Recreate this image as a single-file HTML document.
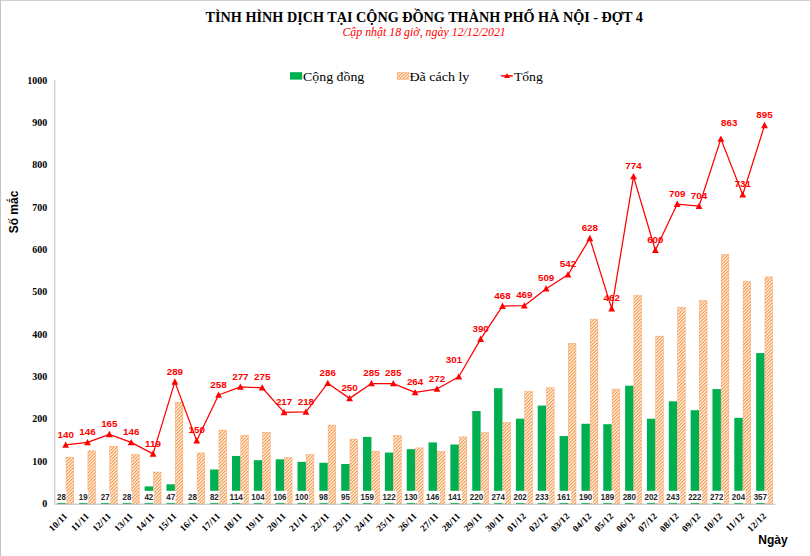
<!DOCTYPE html><html><head><meta charset="utf-8"><style>html,body{margin:0;padding:0;background:#fff;}svg{display:block;}</style></head><body>
<svg width="810" height="556" viewBox="0 0 810 556">
<defs><pattern id="h" patternUnits="userSpaceOnUse" width="2.33" height="2.33" patternTransform="rotate(45)"><rect x="0" y="0" width="2.33" height="2.33" fill="#fff"/><rect x="0" y="0" width="1.2" height="2.33" fill="#F79646"/></pattern></defs>
<rect x="0" y="0" width="810" height="556" fill="#fff"/>
<rect x="0" y="0" width="810" height="1" fill="#d0d0d0"/>
<rect x="0" y="0" width="1" height="556" fill="#c4c4c4"/>
<text x="205.6" y="21.5" textLength="437.2" lengthAdjust="spacingAndGlyphs" font-family="Liberation Serif" font-weight="bold" font-size="14.2" fill="#000">TÌNH HÌNH DỊCH TẠI CỘNG ĐỒNG THÀNH PHỐ HÀ NỘI - ĐỢT 4</text>
<text x="342.4" y="36" textLength="163.4" lengthAdjust="spacingAndGlyphs" font-family="Liberation Serif" font-style="italic" font-size="12" fill="#FF0000">Cập nhật 18 giờ, ngày 12/12/2021</text>
<rect x="290" y="72.2" width="12.2" height="7.4" fill="#00B050"/>
<text x="303.1" y="80.6" font-family="Liberation Serif" font-size="13.1" textLength="61.2" lengthAdjust="spacingAndGlyphs" fill="#000">Cộng đồng</text>
<rect x="397.2" y="72.5" width="11.6" height="7" fill="url(#h)" stroke="#F79646" stroke-width="0.5" stroke-opacity="0.8"/>
<text x="409.4" y="80.6" font-family="Liberation Serif" font-size="13.1" textLength="60" lengthAdjust="spacingAndGlyphs" fill="#000">Đã cách ly</text>
<line x1="501.1" y1="75.9" x2="512.8" y2="75.9" stroke="#FF0000" stroke-width="1.5"/>
<path d="M507,73.3 L510,78 L504,78 Z" fill="#FF0000"/>
<text x="513.9" y="80.6" font-family="Liberation Serif" font-size="13.1" textLength="28.9" lengthAdjust="spacingAndGlyphs" fill="#000">Tổng</text>
<text x="47.2" y="507.10" text-anchor="end" font-family="Liberation Serif" font-weight="bold" font-size="10" fill="#000">0</text>
<text x="47.2" y="464.77" text-anchor="end" font-family="Liberation Serif" font-weight="bold" font-size="10" fill="#000">100</text>
<text x="47.2" y="422.44" text-anchor="end" font-family="Liberation Serif" font-weight="bold" font-size="10" fill="#000">200</text>
<text x="47.2" y="380.11" text-anchor="end" font-family="Liberation Serif" font-weight="bold" font-size="10" fill="#000">300</text>
<text x="47.2" y="337.78" text-anchor="end" font-family="Liberation Serif" font-weight="bold" font-size="10" fill="#000">400</text>
<text x="47.2" y="295.45" text-anchor="end" font-family="Liberation Serif" font-weight="bold" font-size="10" fill="#000">500</text>
<text x="47.2" y="253.12" text-anchor="end" font-family="Liberation Serif" font-weight="bold" font-size="10" fill="#000">600</text>
<text x="47.2" y="210.79" text-anchor="end" font-family="Liberation Serif" font-weight="bold" font-size="10" fill="#000">700</text>
<text x="47.2" y="168.46" text-anchor="end" font-family="Liberation Serif" font-weight="bold" font-size="10" fill="#000">800</text>
<text x="47.2" y="126.13" text-anchor="end" font-family="Liberation Serif" font-weight="bold" font-size="10" fill="#000">900</text>
<text x="47.2" y="83.80" text-anchor="end" font-family="Liberation Serif" font-weight="bold" font-size="10" fill="#000">1000</text>
<text transform="translate(17.6,212) rotate(-90)" text-anchor="middle" font-family="Liberation Sans" font-weight="bold" font-size="12" fill="#000">Số mắc</text>
<text x="773" y="544" text-anchor="middle" font-family="Liberation Sans" font-weight="bold" font-size="12" fill="#000">Ngày</text>
<rect x="57.27" y="492.35" width="8.4" height="11.85" fill="#00B050"/>
<rect x="66.07" y="457.19" width="7.6000000000000005" height="47.01" fill="url(#h)" stroke="#F79646" stroke-width="0.5" stroke-opacity="0.8"/>
<rect x="79.11" y="496.16" width="8.4" height="8.04" fill="#00B050"/>
<rect x="87.91" y="450.84" width="7.6000000000000005" height="53.36" fill="url(#h)" stroke="#F79646" stroke-width="0.5" stroke-opacity="0.8"/>
<rect x="100.95" y="492.77" width="8.4" height="11.43" fill="#00B050"/>
<rect x="109.75" y="446.18" width="7.6000000000000005" height="58.02" fill="url(#h)" stroke="#F79646" stroke-width="0.5" stroke-opacity="0.8"/>
<rect x="122.79" y="492.35" width="8.4" height="11.85" fill="#00B050"/>
<rect x="131.59" y="454.65" width="7.6000000000000005" height="49.55" fill="url(#h)" stroke="#F79646" stroke-width="0.5" stroke-opacity="0.8"/>
<rect x="144.63" y="486.42" width="8.4" height="17.78" fill="#00B050"/>
<rect x="153.43" y="472.01" width="7.6000000000000005" height="32.19" fill="url(#h)" stroke="#F79646" stroke-width="0.5" stroke-opacity="0.8"/>
<rect x="166.47" y="484.30" width="8.4" height="19.90" fill="#00B050"/>
<rect x="175.27" y="402.16" width="7.6000000000000005" height="102.04" fill="url(#h)" stroke="#F79646" stroke-width="0.5" stroke-opacity="0.8"/>
<rect x="188.31" y="492.35" width="8.4" height="11.85" fill="#00B050"/>
<rect x="197.11" y="452.96" width="7.6000000000000005" height="51.24" fill="url(#h)" stroke="#F79646" stroke-width="0.5" stroke-opacity="0.8"/>
<rect x="210.15" y="469.49" width="8.4" height="34.71" fill="#00B050"/>
<rect x="218.95" y="430.10" width="7.6000000000000005" height="74.10" fill="url(#h)" stroke="#F79646" stroke-width="0.5" stroke-opacity="0.8"/>
<rect x="231.99" y="455.94" width="8.4" height="48.26" fill="#00B050"/>
<rect x="240.79" y="435.60" width="7.6000000000000005" height="68.60" fill="url(#h)" stroke="#F79646" stroke-width="0.5" stroke-opacity="0.8"/>
<rect x="253.83" y="460.18" width="8.4" height="44.02" fill="#00B050"/>
<rect x="262.63" y="432.22" width="7.6000000000000005" height="71.98" fill="url(#h)" stroke="#F79646" stroke-width="0.5" stroke-opacity="0.8"/>
<rect x="275.67" y="459.33" width="8.4" height="44.87" fill="#00B050"/>
<rect x="284.47" y="457.61" width="7.6000000000000005" height="46.59" fill="url(#h)" stroke="#F79646" stroke-width="0.5" stroke-opacity="0.8"/>
<rect x="297.51" y="461.87" width="8.4" height="42.33" fill="#00B050"/>
<rect x="306.31" y="454.65" width="7.6000000000000005" height="49.55" fill="url(#h)" stroke="#F79646" stroke-width="0.5" stroke-opacity="0.8"/>
<rect x="319.35" y="462.72" width="8.4" height="41.48" fill="#00B050"/>
<rect x="328.15" y="425.02" width="7.6000000000000005" height="79.18" fill="url(#h)" stroke="#F79646" stroke-width="0.5" stroke-opacity="0.8"/>
<rect x="341.19" y="463.99" width="8.4" height="40.21" fill="#00B050"/>
<rect x="349.99" y="438.99" width="7.6000000000000005" height="65.21" fill="url(#h)" stroke="#F79646" stroke-width="0.5" stroke-opacity="0.8"/>
<rect x="363.03" y="436.90" width="8.4" height="67.30" fill="#00B050"/>
<rect x="371.83" y="451.26" width="7.6000000000000005" height="52.94" fill="url(#h)" stroke="#F79646" stroke-width="0.5" stroke-opacity="0.8"/>
<rect x="384.87" y="452.56" width="8.4" height="51.64" fill="#00B050"/>
<rect x="393.67" y="435.60" width="7.6000000000000005" height="68.60" fill="url(#h)" stroke="#F79646" stroke-width="0.5" stroke-opacity="0.8"/>
<rect x="406.71" y="449.17" width="8.4" height="55.03" fill="#00B050"/>
<rect x="415.51" y="447.88" width="7.6000000000000005" height="56.32" fill="url(#h)" stroke="#F79646" stroke-width="0.5" stroke-opacity="0.8"/>
<rect x="428.55" y="442.40" width="8.4" height="61.80" fill="#00B050"/>
<rect x="437.35" y="451.26" width="7.6000000000000005" height="52.94" fill="url(#h)" stroke="#F79646" stroke-width="0.5" stroke-opacity="0.8"/>
<rect x="450.39" y="444.51" width="8.4" height="59.69" fill="#00B050"/>
<rect x="459.19" y="436.87" width="7.6000000000000005" height="67.33" fill="url(#h)" stroke="#F79646" stroke-width="0.5" stroke-opacity="0.8"/>
<rect x="472.23" y="411.07" width="8.4" height="93.13" fill="#00B050"/>
<rect x="481.03" y="432.64" width="7.6000000000000005" height="71.56" fill="url(#h)" stroke="#F79646" stroke-width="0.5" stroke-opacity="0.8"/>
<rect x="494.07" y="388.22" width="8.4" height="115.98" fill="#00B050"/>
<rect x="502.87" y="422.48" width="7.6000000000000005" height="81.72" fill="url(#h)" stroke="#F79646" stroke-width="0.5" stroke-opacity="0.8"/>
<rect x="515.91" y="418.69" width="8.4" height="85.51" fill="#00B050"/>
<rect x="524.71" y="391.58" width="7.6000000000000005" height="112.62" fill="url(#h)" stroke="#F79646" stroke-width="0.5" stroke-opacity="0.8"/>
<rect x="537.75" y="405.57" width="8.4" height="98.63" fill="#00B050"/>
<rect x="546.55" y="387.77" width="7.6000000000000005" height="116.43" fill="url(#h)" stroke="#F79646" stroke-width="0.5" stroke-opacity="0.8"/>
<rect x="559.59" y="436.05" width="8.4" height="68.15" fill="#00B050"/>
<rect x="568.39" y="343.32" width="7.6000000000000005" height="160.88" fill="url(#h)" stroke="#F79646" stroke-width="0.5" stroke-opacity="0.8"/>
<rect x="581.43" y="423.77" width="8.4" height="80.43" fill="#00B050"/>
<rect x="590.23" y="319.19" width="7.6000000000000005" height="185.01" fill="url(#h)" stroke="#F79646" stroke-width="0.5" stroke-opacity="0.8"/>
<rect x="603.27" y="424.20" width="8.4" height="80.00" fill="#00B050"/>
<rect x="612.07" y="389.04" width="7.6000000000000005" height="115.16" fill="url(#h)" stroke="#F79646" stroke-width="0.5" stroke-opacity="0.8"/>
<rect x="625.11" y="385.68" width="8.4" height="118.52" fill="#00B050"/>
<rect x="633.91" y="295.49" width="7.6000000000000005" height="208.71" fill="url(#h)" stroke="#F79646" stroke-width="0.5" stroke-opacity="0.8"/>
<rect x="646.95" y="418.69" width="8.4" height="85.51" fill="#00B050"/>
<rect x="655.75" y="336.13" width="7.6000000000000005" height="168.07" fill="url(#h)" stroke="#F79646" stroke-width="0.5" stroke-opacity="0.8"/>
<rect x="668.79" y="401.34" width="8.4" height="102.86" fill="#00B050"/>
<rect x="677.59" y="307.34" width="7.6000000000000005" height="196.86" fill="url(#h)" stroke="#F79646" stroke-width="0.5" stroke-opacity="0.8"/>
<rect x="690.63" y="410.23" width="8.4" height="93.97" fill="#00B050"/>
<rect x="699.43" y="300.57" width="7.6000000000000005" height="203.63" fill="url(#h)" stroke="#F79646" stroke-width="0.5" stroke-opacity="0.8"/>
<rect x="712.47" y="389.06" width="8.4" height="115.14" fill="#00B050"/>
<rect x="721.27" y="254.43" width="7.6000000000000005" height="249.77" fill="url(#h)" stroke="#F79646" stroke-width="0.5" stroke-opacity="0.8"/>
<rect x="734.31" y="417.85" width="8.4" height="86.35" fill="#00B050"/>
<rect x="743.11" y="281.52" width="7.6000000000000005" height="222.68" fill="url(#h)" stroke="#F79646" stroke-width="0.5" stroke-opacity="0.8"/>
<rect x="756.15" y="353.08" width="8.4" height="151.12" fill="#00B050"/>
<rect x="764.95" y="276.86" width="7.6000000000000005" height="227.34" fill="url(#h)" stroke="#F79646" stroke-width="0.5" stroke-opacity="0.8"/>
<line x1="54.75" y1="80" x2="54.75" y2="504.2" stroke="#BFBFBF" stroke-width="1"/>
<line x1="54.75" y1="504.2" x2="775.47" y2="504.2" stroke="#BFBFBF" stroke-width="1"/>
<rect x="56.42" y="490.8" width="10.10" height="12.1" fill="#fff"/>
<text x="57.02" y="499.9" textLength="8.90" lengthAdjust="spacingAndGlyphs" font-family="Liberation Sans" font-weight="bold" font-size="8.7" fill="#262626">28</text>
<rect x="78.26" y="490.8" width="10.10" height="12.1" fill="#fff"/>
<text x="78.86" y="499.9" textLength="8.90" lengthAdjust="spacingAndGlyphs" font-family="Liberation Sans" font-weight="bold" font-size="8.7" fill="#262626">19</text>
<rect x="100.10" y="490.8" width="10.10" height="12.1" fill="#fff"/>
<text x="100.70" y="499.9" textLength="8.90" lengthAdjust="spacingAndGlyphs" font-family="Liberation Sans" font-weight="bold" font-size="8.7" fill="#262626">27</text>
<rect x="121.94" y="490.8" width="10.10" height="12.1" fill="#fff"/>
<text x="122.54" y="499.9" textLength="8.90" lengthAdjust="spacingAndGlyphs" font-family="Liberation Sans" font-weight="bold" font-size="8.7" fill="#262626">28</text>
<rect x="143.78" y="490.8" width="10.10" height="12.1" fill="#fff"/>
<text x="144.38" y="499.9" textLength="8.90" lengthAdjust="spacingAndGlyphs" font-family="Liberation Sans" font-weight="bold" font-size="8.7" fill="#262626">42</text>
<rect x="165.62" y="490.8" width="10.10" height="12.1" fill="#fff"/>
<text x="166.22" y="499.9" textLength="8.90" lengthAdjust="spacingAndGlyphs" font-family="Liberation Sans" font-weight="bold" font-size="8.7" fill="#262626">47</text>
<rect x="187.46" y="490.8" width="10.10" height="12.1" fill="#fff"/>
<text x="188.06" y="499.9" textLength="8.90" lengthAdjust="spacingAndGlyphs" font-family="Liberation Sans" font-weight="bold" font-size="8.7" fill="#262626">28</text>
<rect x="209.30" y="490.8" width="10.10" height="12.1" fill="#fff"/>
<text x="209.90" y="499.9" textLength="8.90" lengthAdjust="spacingAndGlyphs" font-family="Liberation Sans" font-weight="bold" font-size="8.7" fill="#262626">82</text>
<rect x="228.91" y="490.8" width="14.55" height="12.1" fill="#fff"/>
<text x="229.51" y="499.9" textLength="13.35" lengthAdjust="spacingAndGlyphs" font-family="Liberation Sans" font-weight="bold" font-size="8.7" fill="#262626">114</text>
<rect x="250.76" y="490.8" width="14.55" height="12.1" fill="#fff"/>
<text x="251.36" y="499.9" textLength="13.35" lengthAdjust="spacingAndGlyphs" font-family="Liberation Sans" font-weight="bold" font-size="8.7" fill="#262626">104</text>
<rect x="272.59" y="490.8" width="14.55" height="12.1" fill="#fff"/>
<text x="273.19" y="499.9" textLength="13.35" lengthAdjust="spacingAndGlyphs" font-family="Liberation Sans" font-weight="bold" font-size="8.7" fill="#262626">106</text>
<rect x="294.44" y="490.8" width="14.55" height="12.1" fill="#fff"/>
<text x="295.03" y="499.9" textLength="13.35" lengthAdjust="spacingAndGlyphs" font-family="Liberation Sans" font-weight="bold" font-size="8.7" fill="#262626">100</text>
<rect x="318.50" y="490.8" width="10.10" height="12.1" fill="#fff"/>
<text x="319.10" y="499.9" textLength="8.90" lengthAdjust="spacingAndGlyphs" font-family="Liberation Sans" font-weight="bold" font-size="8.7" fill="#262626">98</text>
<rect x="340.34" y="490.8" width="10.10" height="12.1" fill="#fff"/>
<text x="340.94" y="499.9" textLength="8.90" lengthAdjust="spacingAndGlyphs" font-family="Liberation Sans" font-weight="bold" font-size="8.7" fill="#262626">95</text>
<rect x="359.95" y="490.8" width="14.55" height="12.1" fill="#fff"/>
<text x="360.55" y="499.9" textLength="13.35" lengthAdjust="spacingAndGlyphs" font-family="Liberation Sans" font-weight="bold" font-size="8.7" fill="#262626">159</text>
<rect x="381.80" y="490.8" width="14.55" height="12.1" fill="#fff"/>
<text x="382.39" y="499.9" textLength="13.35" lengthAdjust="spacingAndGlyphs" font-family="Liberation Sans" font-weight="bold" font-size="8.7" fill="#262626">122</text>
<rect x="403.63" y="490.8" width="14.55" height="12.1" fill="#fff"/>
<text x="404.23" y="499.9" textLength="13.35" lengthAdjust="spacingAndGlyphs" font-family="Liberation Sans" font-weight="bold" font-size="8.7" fill="#262626">130</text>
<rect x="425.47" y="490.8" width="14.55" height="12.1" fill="#fff"/>
<text x="426.07" y="499.9" textLength="13.35" lengthAdjust="spacingAndGlyphs" font-family="Liberation Sans" font-weight="bold" font-size="8.7" fill="#262626">146</text>
<rect x="447.31" y="490.8" width="14.55" height="12.1" fill="#fff"/>
<text x="447.91" y="499.9" textLength="13.35" lengthAdjust="spacingAndGlyphs" font-family="Liberation Sans" font-weight="bold" font-size="8.7" fill="#262626">141</text>
<rect x="469.15" y="490.8" width="14.55" height="12.1" fill="#fff"/>
<text x="469.75" y="499.9" textLength="13.35" lengthAdjust="spacingAndGlyphs" font-family="Liberation Sans" font-weight="bold" font-size="8.7" fill="#262626">220</text>
<rect x="491.00" y="490.8" width="14.55" height="12.1" fill="#fff"/>
<text x="491.59" y="499.9" textLength="13.35" lengthAdjust="spacingAndGlyphs" font-family="Liberation Sans" font-weight="bold" font-size="8.7" fill="#262626">274</text>
<rect x="512.84" y="490.8" width="14.55" height="12.1" fill="#fff"/>
<text x="513.44" y="499.9" textLength="13.35" lengthAdjust="spacingAndGlyphs" font-family="Liberation Sans" font-weight="bold" font-size="8.7" fill="#262626">202</text>
<rect x="534.68" y="490.8" width="14.55" height="12.1" fill="#fff"/>
<text x="535.28" y="499.9" textLength="13.35" lengthAdjust="spacingAndGlyphs" font-family="Liberation Sans" font-weight="bold" font-size="8.7" fill="#262626">233</text>
<rect x="556.51" y="490.8" width="14.55" height="12.1" fill="#fff"/>
<text x="557.12" y="499.9" textLength="13.35" lengthAdjust="spacingAndGlyphs" font-family="Liberation Sans" font-weight="bold" font-size="8.7" fill="#262626">161</text>
<rect x="578.36" y="490.8" width="14.55" height="12.1" fill="#fff"/>
<text x="578.96" y="499.9" textLength="13.35" lengthAdjust="spacingAndGlyphs" font-family="Liberation Sans" font-weight="bold" font-size="8.7" fill="#262626">190</text>
<rect x="600.20" y="490.8" width="14.55" height="12.1" fill="#fff"/>
<text x="600.80" y="499.9" textLength="13.35" lengthAdjust="spacingAndGlyphs" font-family="Liberation Sans" font-weight="bold" font-size="8.7" fill="#262626">189</text>
<rect x="622.04" y="490.8" width="14.55" height="12.1" fill="#fff"/>
<text x="622.64" y="499.9" textLength="13.35" lengthAdjust="spacingAndGlyphs" font-family="Liberation Sans" font-weight="bold" font-size="8.7" fill="#262626">280</text>
<rect x="643.88" y="490.8" width="14.55" height="12.1" fill="#fff"/>
<text x="644.48" y="499.9" textLength="13.35" lengthAdjust="spacingAndGlyphs" font-family="Liberation Sans" font-weight="bold" font-size="8.7" fill="#262626">202</text>
<rect x="665.72" y="490.8" width="14.55" height="12.1" fill="#fff"/>
<text x="666.32" y="499.9" textLength="13.35" lengthAdjust="spacingAndGlyphs" font-family="Liberation Sans" font-weight="bold" font-size="8.7" fill="#262626">243</text>
<rect x="687.56" y="490.8" width="14.55" height="12.1" fill="#fff"/>
<text x="688.16" y="499.9" textLength="13.35" lengthAdjust="spacingAndGlyphs" font-family="Liberation Sans" font-weight="bold" font-size="8.7" fill="#262626">222</text>
<rect x="709.40" y="490.8" width="14.55" height="12.1" fill="#fff"/>
<text x="710.00" y="499.9" textLength="13.35" lengthAdjust="spacingAndGlyphs" font-family="Liberation Sans" font-weight="bold" font-size="8.7" fill="#262626">272</text>
<rect x="731.24" y="490.8" width="14.55" height="12.1" fill="#fff"/>
<text x="731.84" y="499.9" textLength="13.35" lengthAdjust="spacingAndGlyphs" font-family="Liberation Sans" font-weight="bold" font-size="8.7" fill="#262626">204</text>
<rect x="753.08" y="490.8" width="14.55" height="12.1" fill="#fff"/>
<text x="753.68" y="499.9" textLength="13.35" lengthAdjust="spacingAndGlyphs" font-family="Liberation Sans" font-weight="bold" font-size="8.7" fill="#262626">357</text>
<polyline points="65.67,444.94 87.51,442.40 109.35,434.36 131.19,442.40 153.03,453.83 174.87,381.87 196.71,440.70 218.55,394.99 240.39,386.95 262.23,387.79 284.07,412.34 305.91,411.92 327.75,383.14 349.59,398.38 371.43,383.56 393.27,383.56 415.11,392.45 436.95,389.06 458.79,376.79 480.63,339.11 502.47,306.10 524.31,305.67 546.15,288.74 567.99,274.77 589.83,238.37 611.67,308.64 633.51,176.57 655.35,250.22 677.19,204.08 699.03,206.20 720.87,138.89 742.71,194.77 764.55,125.35" fill="none" stroke="#FF0000" stroke-width="1.25" stroke-linejoin="round"/>
<path d="M65.67,441.44 L69.07,447.74 L62.27,447.74 Z" fill="#FF0000"/>
<path d="M87.51,438.90 L90.91,445.20 L84.11,445.20 Z" fill="#FF0000"/>
<path d="M109.35,430.86 L112.75,437.16 L105.95,437.16 Z" fill="#FF0000"/>
<path d="M131.19,438.90 L134.59,445.20 L127.79,445.20 Z" fill="#FF0000"/>
<path d="M153.03,450.33 L156.43,456.63 L149.63,456.63 Z" fill="#FF0000"/>
<path d="M174.87,378.37 L178.27,384.67 L171.47,384.67 Z" fill="#FF0000"/>
<path d="M196.71,437.20 L200.11,443.50 L193.31,443.50 Z" fill="#FF0000"/>
<path d="M218.55,391.49 L221.95,397.79 L215.15,397.79 Z" fill="#FF0000"/>
<path d="M240.39,383.45 L243.79,389.75 L236.99,389.75 Z" fill="#FF0000"/>
<path d="M262.23,384.29 L265.63,390.59 L258.83,390.59 Z" fill="#FF0000"/>
<path d="M284.07,408.84 L287.47,415.14 L280.67,415.14 Z" fill="#FF0000"/>
<path d="M305.91,408.42 L309.31,414.72 L302.51,414.72 Z" fill="#FF0000"/>
<path d="M327.75,379.64 L331.15,385.94 L324.35,385.94 Z" fill="#FF0000"/>
<path d="M349.59,394.88 L352.99,401.18 L346.19,401.18 Z" fill="#FF0000"/>
<path d="M371.43,380.06 L374.83,386.36 L368.03,386.36 Z" fill="#FF0000"/>
<path d="M393.27,380.06 L396.67,386.36 L389.87,386.36 Z" fill="#FF0000"/>
<path d="M415.11,388.95 L418.51,395.25 L411.71,395.25 Z" fill="#FF0000"/>
<path d="M436.95,385.56 L440.35,391.86 L433.55,391.86 Z" fill="#FF0000"/>
<path d="M458.79,373.29 L462.19,379.59 L455.39,379.59 Z" fill="#FF0000"/>
<path d="M480.63,335.61 L484.03,341.91 L477.23,341.91 Z" fill="#FF0000"/>
<path d="M502.47,302.60 L505.87,308.90 L499.07,308.90 Z" fill="#FF0000"/>
<path d="M524.31,302.17 L527.71,308.47 L520.91,308.47 Z" fill="#FF0000"/>
<path d="M546.15,285.24 L549.55,291.54 L542.75,291.54 Z" fill="#FF0000"/>
<path d="M567.99,271.27 L571.39,277.57 L564.59,277.57 Z" fill="#FF0000"/>
<path d="M589.83,234.87 L593.23,241.17 L586.43,241.17 Z" fill="#FF0000"/>
<path d="M611.67,305.14 L615.07,311.44 L608.27,311.44 Z" fill="#FF0000"/>
<path d="M633.51,173.07 L636.91,179.37 L630.11,179.37 Z" fill="#FF0000"/>
<path d="M655.35,246.72 L658.75,253.02 L651.95,253.02 Z" fill="#FF0000"/>
<path d="M677.19,200.58 L680.59,206.88 L673.79,206.88 Z" fill="#FF0000"/>
<path d="M699.03,202.70 L702.43,209.00 L695.63,209.00 Z" fill="#FF0000"/>
<path d="M720.87,135.39 L724.27,141.69 L717.47,141.69 Z" fill="#FF0000"/>
<path d="M742.71,191.27 L746.11,197.57 L739.31,197.57 Z" fill="#FF0000"/>
<path d="M764.55,121.85 L767.95,128.15 L761.15,128.15 Z" fill="#FF0000"/>
<text x="65.67" y="437.64" text-anchor="middle" font-family="Liberation Sans" font-weight="bold" font-size="9.8" fill="#FF0000">140</text>
<text x="87.51" y="435.10" text-anchor="middle" font-family="Liberation Sans" font-weight="bold" font-size="9.8" fill="#FF0000">146</text>
<text x="109.35" y="427.06" text-anchor="middle" font-family="Liberation Sans" font-weight="bold" font-size="9.8" fill="#FF0000">165</text>
<text x="131.19" y="435.10" text-anchor="middle" font-family="Liberation Sans" font-weight="bold" font-size="9.8" fill="#FF0000">146</text>
<text x="153.03" y="446.53" text-anchor="middle" font-family="Liberation Sans" font-weight="bold" font-size="9.8" fill="#FF0000">119</text>
<text x="174.87" y="374.57" text-anchor="middle" font-family="Liberation Sans" font-weight="bold" font-size="9.8" fill="#FF0000">289</text>
<text x="196.71" y="433.40" text-anchor="middle" font-family="Liberation Sans" font-weight="bold" font-size="9.8" fill="#FF0000">150</text>
<text x="218.55" y="387.69" text-anchor="middle" font-family="Liberation Sans" font-weight="bold" font-size="9.8" fill="#FF0000">258</text>
<text x="240.39" y="379.65" text-anchor="middle" font-family="Liberation Sans" font-weight="bold" font-size="9.8" fill="#FF0000">277</text>
<text x="262.23" y="380.49" text-anchor="middle" font-family="Liberation Sans" font-weight="bold" font-size="9.8" fill="#FF0000">275</text>
<text x="284.07" y="405.04" text-anchor="middle" font-family="Liberation Sans" font-weight="bold" font-size="9.8" fill="#FF0000">217</text>
<text x="305.91" y="404.62" text-anchor="middle" font-family="Liberation Sans" font-weight="bold" font-size="9.8" fill="#FF0000">218</text>
<text x="327.75" y="375.84" text-anchor="middle" font-family="Liberation Sans" font-weight="bold" font-size="9.8" fill="#FF0000">286</text>
<text x="349.59" y="391.07" text-anchor="middle" font-family="Liberation Sans" font-weight="bold" font-size="9.8" fill="#FF0000">250</text>
<text x="371.43" y="376.26" text-anchor="middle" font-family="Liberation Sans" font-weight="bold" font-size="9.8" fill="#FF0000">285</text>
<text x="393.27" y="376.26" text-anchor="middle" font-family="Liberation Sans" font-weight="bold" font-size="9.8" fill="#FF0000">285</text>
<text x="415.11" y="385.15" text-anchor="middle" font-family="Liberation Sans" font-weight="bold" font-size="9.8" fill="#FF0000">264</text>
<text x="436.95" y="381.76" text-anchor="middle" font-family="Liberation Sans" font-weight="bold" font-size="9.8" fill="#FF0000">272</text>
<text x="453.99" y="363.29" text-anchor="middle" font-family="Liberation Sans" font-weight="bold" font-size="9.8" fill="#FF0000">301</text>
<text x="480.63" y="331.81" text-anchor="middle" font-family="Liberation Sans" font-weight="bold" font-size="9.8" fill="#FF0000">390</text>
<text x="502.47" y="298.80" text-anchor="middle" font-family="Liberation Sans" font-weight="bold" font-size="9.8" fill="#FF0000">468</text>
<text x="524.31" y="298.37" text-anchor="middle" font-family="Liberation Sans" font-weight="bold" font-size="9.8" fill="#FF0000">469</text>
<text x="546.15" y="281.44" text-anchor="middle" font-family="Liberation Sans" font-weight="bold" font-size="9.8" fill="#FF0000">509</text>
<text x="567.99" y="267.47" text-anchor="middle" font-family="Liberation Sans" font-weight="bold" font-size="9.8" fill="#FF0000">542</text>
<text x="589.83" y="231.07" text-anchor="middle" font-family="Liberation Sans" font-weight="bold" font-size="9.8" fill="#FF0000">628</text>
<text x="611.67" y="301.34" text-anchor="middle" font-family="Liberation Sans" font-weight="bold" font-size="9.8" fill="#FF0000">462</text>
<text x="633.51" y="169.27" text-anchor="middle" font-family="Liberation Sans" font-weight="bold" font-size="9.8" fill="#FF0000">774</text>
<text x="655.35" y="242.92" text-anchor="middle" font-family="Liberation Sans" font-weight="bold" font-size="9.8" fill="#FF0000">600</text>
<text x="677.19" y="196.78" text-anchor="middle" font-family="Liberation Sans" font-weight="bold" font-size="9.8" fill="#FF0000">709</text>
<text x="699.03" y="198.90" text-anchor="middle" font-family="Liberation Sans" font-weight="bold" font-size="9.8" fill="#FF0000">704</text>
<text x="729.17" y="126.09" text-anchor="middle" font-family="Liberation Sans" font-weight="bold" font-size="9.8" fill="#FF0000">863</text>
<text x="742.71" y="187.47" text-anchor="middle" font-family="Liberation Sans" font-weight="bold" font-size="9.8" fill="#FF0000">731</text>
<text x="764.55" y="118.05" text-anchor="middle" font-family="Liberation Sans" font-weight="bold" font-size="9.8" fill="#FF0000">895</text>
<text transform="translate(67.97,516.60) rotate(-45)" text-anchor="end" font-family="Liberation Serif" font-weight="bold" font-size="9.3" letter-spacing="0.25" fill="#000">10/11</text>
<text transform="translate(89.81,516.60) rotate(-45)" text-anchor="end" font-family="Liberation Serif" font-weight="bold" font-size="9.3" letter-spacing="0.25" fill="#000">11/11</text>
<text transform="translate(111.65,516.60) rotate(-45)" text-anchor="end" font-family="Liberation Serif" font-weight="bold" font-size="9.3" letter-spacing="0.25" fill="#000">12/11</text>
<text transform="translate(133.49,516.60) rotate(-45)" text-anchor="end" font-family="Liberation Serif" font-weight="bold" font-size="9.3" letter-spacing="0.25" fill="#000">13/11</text>
<text transform="translate(155.33,516.60) rotate(-45)" text-anchor="end" font-family="Liberation Serif" font-weight="bold" font-size="9.3" letter-spacing="0.25" fill="#000">14/11</text>
<text transform="translate(177.17,516.60) rotate(-45)" text-anchor="end" font-family="Liberation Serif" font-weight="bold" font-size="9.3" letter-spacing="0.25" fill="#000">15/11</text>
<text transform="translate(199.01,516.60) rotate(-45)" text-anchor="end" font-family="Liberation Serif" font-weight="bold" font-size="9.3" letter-spacing="0.25" fill="#000">16/11</text>
<text transform="translate(220.85,516.60) rotate(-45)" text-anchor="end" font-family="Liberation Serif" font-weight="bold" font-size="9.3" letter-spacing="0.25" fill="#000">17/11</text>
<text transform="translate(242.69,516.60) rotate(-45)" text-anchor="end" font-family="Liberation Serif" font-weight="bold" font-size="9.3" letter-spacing="0.25" fill="#000">18/11</text>
<text transform="translate(264.53,516.60) rotate(-45)" text-anchor="end" font-family="Liberation Serif" font-weight="bold" font-size="9.3" letter-spacing="0.25" fill="#000">19/11</text>
<text transform="translate(286.37,516.60) rotate(-45)" text-anchor="end" font-family="Liberation Serif" font-weight="bold" font-size="9.3" letter-spacing="0.25" fill="#000">20/11</text>
<text transform="translate(308.21,516.60) rotate(-45)" text-anchor="end" font-family="Liberation Serif" font-weight="bold" font-size="9.3" letter-spacing="0.25" fill="#000">21/11</text>
<text transform="translate(330.05,516.60) rotate(-45)" text-anchor="end" font-family="Liberation Serif" font-weight="bold" font-size="9.3" letter-spacing="0.25" fill="#000">22/11</text>
<text transform="translate(351.89,516.60) rotate(-45)" text-anchor="end" font-family="Liberation Serif" font-weight="bold" font-size="9.3" letter-spacing="0.25" fill="#000">23/11</text>
<text transform="translate(373.73,516.60) rotate(-45)" text-anchor="end" font-family="Liberation Serif" font-weight="bold" font-size="9.3" letter-spacing="0.25" fill="#000">24/11</text>
<text transform="translate(395.57,516.60) rotate(-45)" text-anchor="end" font-family="Liberation Serif" font-weight="bold" font-size="9.3" letter-spacing="0.25" fill="#000">25/11</text>
<text transform="translate(417.41,516.60) rotate(-45)" text-anchor="end" font-family="Liberation Serif" font-weight="bold" font-size="9.3" letter-spacing="0.25" fill="#000">26/11</text>
<text transform="translate(439.25,516.60) rotate(-45)" text-anchor="end" font-family="Liberation Serif" font-weight="bold" font-size="9.3" letter-spacing="0.25" fill="#000">27/11</text>
<text transform="translate(461.09,516.60) rotate(-45)" text-anchor="end" font-family="Liberation Serif" font-weight="bold" font-size="9.3" letter-spacing="0.25" fill="#000">28/11</text>
<text transform="translate(482.93,516.60) rotate(-45)" text-anchor="end" font-family="Liberation Serif" font-weight="bold" font-size="9.3" letter-spacing="0.25" fill="#000">29/11</text>
<text transform="translate(504.77,516.60) rotate(-45)" text-anchor="end" font-family="Liberation Serif" font-weight="bold" font-size="9.3" letter-spacing="0.25" fill="#000">30/11</text>
<text transform="translate(526.61,516.60) rotate(-45)" text-anchor="end" font-family="Liberation Serif" font-weight="bold" font-size="9.3" letter-spacing="0.25" fill="#000">01/12</text>
<text transform="translate(548.45,516.60) rotate(-45)" text-anchor="end" font-family="Liberation Serif" font-weight="bold" font-size="9.3" letter-spacing="0.25" fill="#000">02/12</text>
<text transform="translate(570.29,516.60) rotate(-45)" text-anchor="end" font-family="Liberation Serif" font-weight="bold" font-size="9.3" letter-spacing="0.25" fill="#000">03/12</text>
<text transform="translate(592.13,516.60) rotate(-45)" text-anchor="end" font-family="Liberation Serif" font-weight="bold" font-size="9.3" letter-spacing="0.25" fill="#000">04/12</text>
<text transform="translate(613.97,516.60) rotate(-45)" text-anchor="end" font-family="Liberation Serif" font-weight="bold" font-size="9.3" letter-spacing="0.25" fill="#000">05/12</text>
<text transform="translate(635.81,516.60) rotate(-45)" text-anchor="end" font-family="Liberation Serif" font-weight="bold" font-size="9.3" letter-spacing="0.25" fill="#000">06/12</text>
<text transform="translate(657.65,516.60) rotate(-45)" text-anchor="end" font-family="Liberation Serif" font-weight="bold" font-size="9.3" letter-spacing="0.25" fill="#000">07/12</text>
<text transform="translate(679.49,516.60) rotate(-45)" text-anchor="end" font-family="Liberation Serif" font-weight="bold" font-size="9.3" letter-spacing="0.25" fill="#000">08/12</text>
<text transform="translate(701.33,516.60) rotate(-45)" text-anchor="end" font-family="Liberation Serif" font-weight="bold" font-size="9.3" letter-spacing="0.25" fill="#000">09/12</text>
<text transform="translate(723.17,516.60) rotate(-45)" text-anchor="end" font-family="Liberation Serif" font-weight="bold" font-size="9.3" letter-spacing="0.25" fill="#000">10/12</text>
<text transform="translate(745.01,516.60) rotate(-45)" text-anchor="end" font-family="Liberation Serif" font-weight="bold" font-size="9.3" letter-spacing="0.25" fill="#000">11/12</text>
<text transform="translate(766.85,516.60) rotate(-45)" text-anchor="end" font-family="Liberation Serif" font-weight="bold" font-size="9.3" letter-spacing="0.25" fill="#000">12/12</text>
</svg></body></html>
